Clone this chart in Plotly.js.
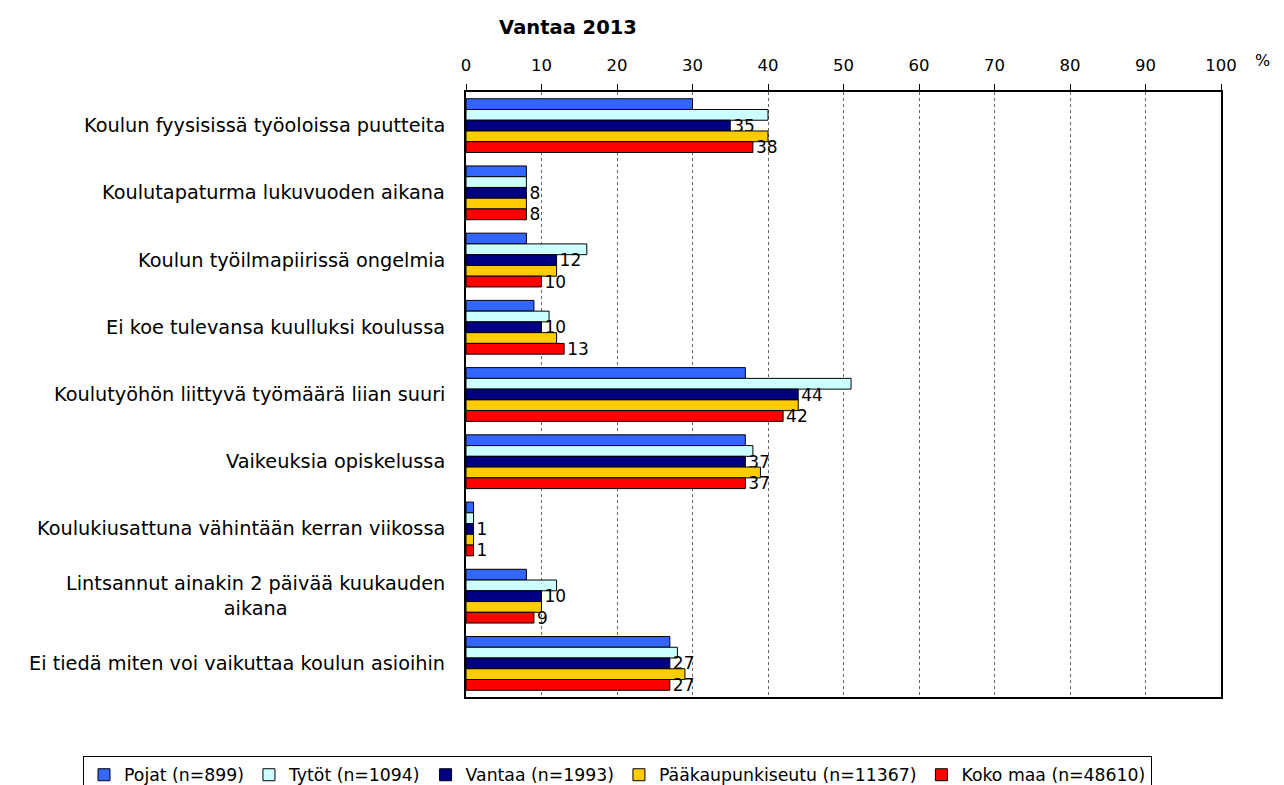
<!DOCTYPE html>
<html>
<head>
<meta charset="utf-8">
<script src="https://cdn.plot.ly/plotly-3.0.1.min.js"></script>
<style>html,body{margin:0;padding:0;background:#fff;}#chart{width:1284px;height:785px;}</style>
</head>
<body>
<div id="chart"></div>
<script>
const categories = [
  "Koulun fyysisissä työoloissa puutteita",
  "Koulutapaturma lukuvuoden aikana",
  "Koulun työilmapiirissä ongelmia",
  "Ei koe tulevansa kuulluksi koulussa",
  "Koulutyöhön liittyvä työmäärä liian suuri",
  "Vaikeuksia opiskelussa",
  "Koulukiusattuna vähintään kerran viikossa",
  "Lintsannut ainakin 2 päivää kuukauden<br>aikana",
  "Ei tiedä miten voi vaikuttaa koulun asioihin"
];
const seriesNames = ["Pojat (n=899)", "Tytöt (n=1094)", "Vantaa (n=1993)", "Pääkaupunkiseutu (n=11367)", "Koko maa (n=48610)"];
const pojat   = [30, 8, 8, 9, 37, 37, 1, 8, 27];
const tytot   = [40, 8, 16, 11, 51, 38, 1, 12, 28];
const vantaa  = [35, 8, 12, 10, 44, 37, 1, 10, 27];
const pks     = [40, 8, 12, 12, 44, 39, 1, 10, 29];
const kokomaa = [38, 8, 10, 13, 42, 37, 1, 9, 27];
const showLabels = [false, false, true, false, true];
const colors = ["#3366FF", "#CCFFFF", "#000080", "#FFCC00", "#FF0000"];
const xTicks = [0,10,20,30,40,50,60,70,80,90,100];
const chartTitle = "Vantaa 2013";
const pageHeading = "KOULUSSA?";

const values = [pojat, tytot, vantaa, pks, kokomaa];
const font = "DejaVu Sans, Liberation Sans, Arial, sans-serif";

const traces = values.map((v, i) => ({
  type: "bar",
  orientation: "h",
  name: seriesNames[i],
  y: categories,
  x: v,
  marker: {color: colors[i], line: {color: "#000", width: 1}},
  text: showLabels[i] ? v.map(String) : undefined,
  textposition: showLabels[i] ? "outside" : "none",
  constraintext: "none",
  textfont: {family: font, size: 17, color: "#000"},
  cliponaxis: false,
  hoverinfo: "x+name"
}));

const annotations = categories.map(c => ({
  xref: "paper", yref: "y", x: -0.025, y: c, xanchor: "right", yanchor: "middle",
  text: c, showarrow: false, align: "center",
  font: {family: font, size: 19.3, color: "#000"}
}));
annotations.push({
  xref: "paper", yref: "paper", x: (1262-466)/755, y: 1 + (92-60)/605, xanchor: "center", yanchor: "middle",
  text: "%", showarrow: false, font: {family: font, size: 16, color: "#000"}
});
annotations.push({
  xref: "paper", yref: "paper", x: -466/755, y: 1 + 92/605 + 0.012, xanchor: "left", yanchor: "bottom",
  text: "<b>" + pageHeading + "</b>", showarrow: false, font: {family: font, size: 24, color: "#000"}
});

const layout = {
  width: 1284, height: 785,
  margin: {l: 466, r: 63, t: 92, b: 88, pad: 0, autoexpand: false},
  paper_bgcolor: "#fff", plot_bgcolor: "#fff",
  font: {family: font, size: 16, color: "#000"},
  title: {text: "<b>" + chartTitle + "</b>", xref: "container", yref: "container",
          x: 568/1284, y: 1 - 27/785, xanchor: "center", yanchor: "middle",
          font: {family: font, size: 19.5, color: "#000"}},
  barmode: "group",
  bargap: 0.2,
  bargroupgap: 0,
  xaxis: {
    side: "top", range: [0, 100], tickvals: xTicks, ticktext: xTicks.map(String),
    showgrid: true, gridcolor: "#666", griddash: "dot", gridwidth: 1,
    showline: true, linecolor: "#000", linewidth: 2, mirror: true,
    ticks: "outside", ticklen: 6, tickcolor: "#000", tickwidth: 1,
    ticklabelstandoff: 6,
    tickfont: {family: font, size: 16.5, color: "#000"},
    zeroline: false, fixedrange: true
  },
  yaxis: {
    autorange: "reversed", showticklabels: false, ticks: "",
    showline: true, linecolor: "#000", linewidth: 2, mirror: true,
    showgrid: false, zeroline: false, fixedrange: true
  },
  legend: {
    orientation: "h", xref: "paper", yref: "paper",
    x: (83-466)/755, y: (697-756)/605, xanchor: "left", yanchor: "top",
    bordercolor: "#000", borderwidth: 1, bgcolor: "#fff",
    font: {family: font, size: 17.3, color: "#000"},
    itemwidth: 30, traceorder: "normal"
  },
  annotations: annotations,
  showlegend: true
};

Plotly.newPlot("chart", traces, layout, {displayModeBar: false, staticPlot: true});
</script>
</body>
</html>
